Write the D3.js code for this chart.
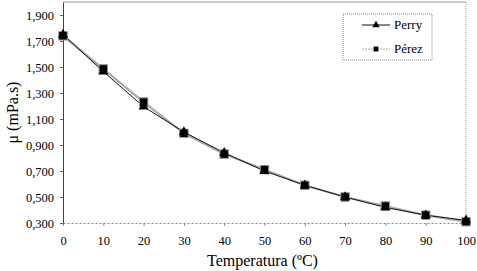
<!DOCTYPE html>
<html>
<head>
<meta charset="utf-8">
<script src="https://cdn.jsdelivr.net/npm/d3@7"></script>
<style>
  body { margin: 0; background: #fff; font-family: 'Liberation Serif', 'Times New Roman', serif; }
  svg text { font-family: 'Liberation Serif', 'Times New Roman', serif !important; }
</style>
</head>
<body>
<svg id="chart" width="477" height="271" font-family="Liberation Serif"></svg>
<script>
const temps = [0, 10, 20, 30, 40, 50, 60, 70, 80, 90, 100];
const perry = [1.75, 1.465, 1.195, 1.0, 0.84, 0.70, 0.59, 0.50, 0.42, 0.36, 0.32];
const perez = [1.74, 1.485, 1.23, 0.99, 0.83, 0.71, 0.59, 0.50, 0.43, 0.36, 0.31];
const yTicks = [0.3, 0.5, 0.7, 0.9, 1.1, 1.3, 1.5, 1.7, 1.9];
const xTicks = [0, 10, 20, 30, 40, 50, 60, 70, 80, 90, 100];

const W = 477, H = 271;
const margin = { top: 2, right: 11, bottom: 48, left: 63 };
const w = W - margin.left - margin.right;
const h = H - margin.top - margin.bottom;

const svg = d3.select('#chart');
const g = svg.append('g')
  .attr('transform', `translate(${margin.left},${margin.top})`);

const x = d3.scaleLinear().domain([0, 100]).range([0, w]);
const y = d3.scaleLinear().domain([0.3, 2.0]).range([h, 0]);
const fmt = (v) => d3.format('.3f')(v).replace('.', ',');

// frame: top solid, right dotted
g.append('line').attr('x1', 0).attr('x2', w).attr('y1', 0).attr('y2', 0)
  .attr('stroke', '#999').attr('stroke-width', 1);
g.append('line').attr('x1', w).attr('x2', w).attr('y1', 0).attr('y2', h)
  .attr('stroke', '#999').attr('stroke-dasharray', '1,1');

// x axis
const xAxis = g.append('g').attr('transform', `translate(0,${h})`)
  .call(d3.axisBottom(x).tickValues(xTicks).tickSize(3).tickSizeOuter(0));
xAxis.attr('font-family', null);
xAxis.select('.domain').attr('stroke', '#888').attr('stroke-dasharray', '2,2');
xAxis.selectAll('.tick line').attr('stroke', '#888');
xAxis.selectAll('text').attr('font-size', 12.5).attr('fill', '#000').attr('dy', '1.3em');

// y axis
const yAxis = g.append('g')
  .call(d3.axisLeft(y).tickValues(yTicks).tickFormat(fmt).tickSize(3).tickSizeOuter(0));
yAxis.attr('font-family', null);
yAxis.select('.domain').attr('stroke', '#444');
yAxis.selectAll('.tick line').attr('stroke', '#666');
yAxis.selectAll('text').attr('font-size', 12.5).attr('fill', '#000').attr('x', -9);

// axis titles
svg.append('text').attr('x', margin.left + w / 2 - 2).attr('y', 266)
  .attr('text-anchor', 'middle').attr('font-size', 16)
  .text('Temperatura (ºC)');
svg.append('text').attr('transform', `translate(18,${margin.top + h / 2}) rotate(-90)`)
  .attr('text-anchor', 'middle').attr('font-size', 16)
  .text('μ (mPa.s)');

const pts = (vals) => temps.map((t, i) => [x(t), y(vals[i])]);
const line = d3.line();

// Pérez: grey line, squares
g.append('path').attr('d', line(pts(perez)))
  .attr('fill', 'none').attr('stroke', '#aaa').attr('stroke-width', 2.2);
// Perry: black line, triangles
g.append('path').attr('d', line(pts(perry)))
  .attr('fill', 'none').attr('stroke', '#111').attr('stroke-width', 1);

const tri = d3.symbol().type(d3.symbolTriangle).size(44);
const sq = d3.symbol().type(d3.symbolSquare).size(72);

g.selectAll('.perez').data(pts(perez)).enter().append('path')
  .attr('class', 'perez').attr('d', sq)
  .attr('transform', (d) => `translate(${d[0]},${d[1]})`)
  .attr('fill', '#000').attr('stroke', '#999').attr('stroke-width', 1);
g.selectAll('.perry').data(pts(perry)).enter().append('path')
  .attr('class', 'perry').attr('d', tri)
  .attr('transform', (d) => `translate(${d[0]},${d[1]})`)
  .attr('fill', '#000');

// legend
const lg = svg.append('g').attr('transform', 'translate(343,14)');
lg.append('rect').attr('width', 89).attr('height', 46)
  .attr('fill', '#fff').attr('stroke', '#888').attr('stroke-dasharray', '1,1');
lg.append('line').attr('x1', 19).attr('x2', 47).attr('y1', 11).attr('y2', 11)
  .attr('stroke', '#111');
lg.append('path').attr('d', d3.symbol().type(d3.symbolTriangle).size(24))
  .attr('transform', 'translate(33,11)').attr('fill', '#000');
lg.append('text').attr('x', 51).attr('y', 15).attr('font-size', 13).text('Perry');
lg.append('line').attr('x1', 19).attr('x2', 47).attr('y1', 35).attr('y2', 35)
  .attr('stroke', '#aaa').attr('stroke-dasharray', '2,1');
lg.append('path').attr('d', d3.symbol().type(d3.symbolSquare).size(24))
  .attr('transform', 'translate(33,35)').attr('fill', '#000');
lg.append('text').attr('x', 51).attr('y', 39).attr('font-size', 13).text('Pérez');
</script>
</body>
</html>
